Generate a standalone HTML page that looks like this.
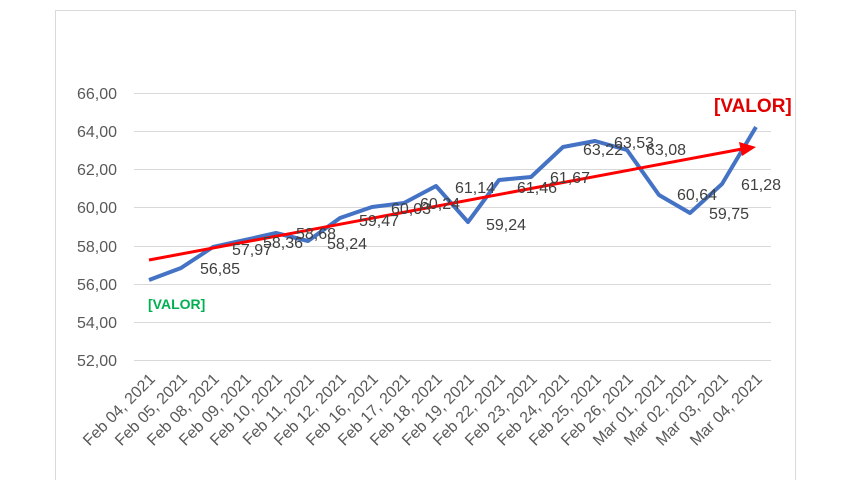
<!DOCTYPE html>
<html><head><meta charset="utf-8"><style>
body{margin:0;background:#fff;}
svg{display:block;font-family:"Liberation Sans",sans-serif;}
</style></head><body>
<svg width="862" height="480" viewBox="0 0 862 480">
<rect x="55.5" y="10.5" width="740" height="475" fill="#fff" stroke="#d9d9d9"/>
<g stroke="#d9d9d9" stroke-width="1">
<line x1="134" x2="771" y1="93.5" y2="93.5"/>
<line x1="134" x2="771" y1="131.5" y2="131.5"/>
<line x1="134" x2="771" y1="169.5" y2="169.5"/>
<line x1="134" x2="771" y1="207.5" y2="207.5"/>
<line x1="134" x2="771" y1="246.5" y2="246.5"/>
<line x1="134" x2="771" y1="284.5" y2="284.5"/>
<line x1="134" x2="771" y1="322.5" y2="322.5"/>
<line x1="134" x2="771" y1="360.5" y2="360.5"/>
</g>
<g fill="#595959" font-size="16" text-anchor="end">
<text x="117" y="99">66,00</text><text x="117" y="137">64,00</text><text x="117" y="175">62,00</text><text x="117" y="213">60,00</text><text x="117" y="252">58,00</text><text x="117" y="290">56,00</text><text x="117" y="328">54,00</text><text x="117" y="366">52,00</text>
</g>
<polyline fill="none" stroke="#4472c4" stroke-width="4" stroke-linejoin="round" points="149,280 181,268 213,247 245,240 276,233 308,241 340,218 372,207 404,203 436,186 468,222 499,180 531,177 563,147 595,141 627,150 659,195 690,213 722,184 756,127"/>
<line x1="149" y1="260" x2="742" y2="149" stroke="#ff0000" stroke-width="3"/>
<polygon points="756,147 739,142 742,156" fill="#ff0000"/>
<g fill="#404040" font-size="16">
<text x="200" y="274">56,85</text><text x="232" y="255">57,97</text><text x="263" y="248">58,36</text><text x="296" y="239">58,68</text><text x="327" y="249">58,24</text><text x="359" y="226">59,47</text><text x="391" y="214">60,03</text><text x="420" y="209">60,24</text><text x="455" y="193">61,14</text><text x="486" y="230">59,24</text><text x="517" y="193">61,46</text><text x="550" y="183">61,67</text><text x="583" y="155">63,22</text><text x="614" y="148">63,53</text><text x="646" y="155">63,08</text><text x="677" y="200">60,64</text><text x="709" y="219">59,75</text><text x="741" y="190">61,28</text>
</g>
<text x="148" y="309" fill="#00b050" font-size="14" font-weight="bold">[VALOR]</text>
<text x="714" y="112" fill="#e00000" font-size="19" font-weight="bold">[VALOR]</text>
<g fill="#595959" font-size="16" text-anchor="end">
<text transform="translate(156,380) rotate(-45)">Feb 04, 2021</text>
<text transform="translate(188,380) rotate(-45)">Feb 05, 2021</text>
<text transform="translate(220,380) rotate(-45)">Feb 08, 2021</text>
<text transform="translate(252,380) rotate(-45)">Feb 09, 2021</text>
<text transform="translate(283,380) rotate(-45)">Feb 10, 2021</text>
<text transform="translate(315,380) rotate(-45)">Feb 11, 2021</text>
<text transform="translate(347,380) rotate(-45)">Feb 12, 2021</text>
<text transform="translate(379,380) rotate(-45)">Feb 16, 2021</text>
<text transform="translate(411,380) rotate(-45)">Feb 17, 2021</text>
<text transform="translate(443,380) rotate(-45)">Feb 18, 2021</text>
<text transform="translate(475,380) rotate(-45)">Feb 19, 2021</text>
<text transform="translate(506,380) rotate(-45)">Feb 22, 2021</text>
<text transform="translate(538,380) rotate(-45)">Feb 23, 2021</text>
<text transform="translate(570,380) rotate(-45)">Feb 24, 2021</text>
<text transform="translate(602,380) rotate(-45)">Feb 25, 2021</text>
<text transform="translate(634,380) rotate(-45)">Feb 26, 2021</text>
<text transform="translate(666,380) rotate(-45)">Mar 01, 2021</text>
<text transform="translate(697,380) rotate(-45)">Mar 02, 2021</text>
<text transform="translate(729,380) rotate(-45)">Mar 03, 2021</text>
<text transform="translate(763,380) rotate(-45)">Mar 04, 2021</text>
</g>
</svg>
</body></html>
